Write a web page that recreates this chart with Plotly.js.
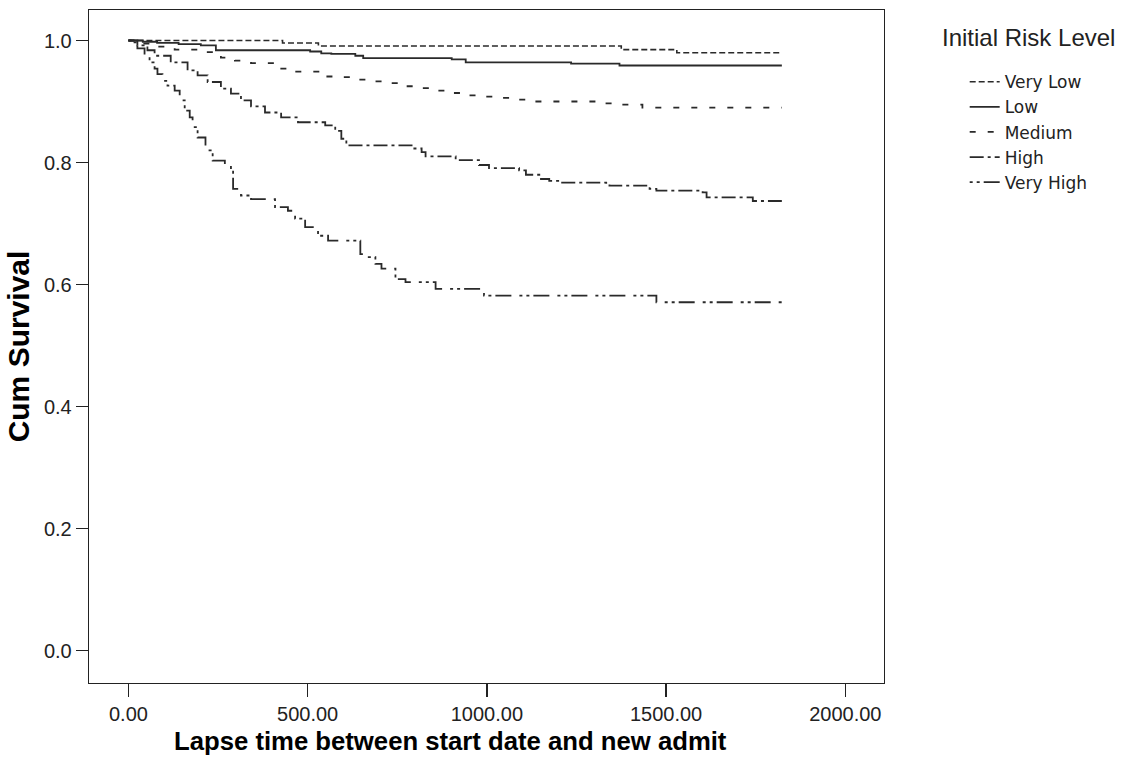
<!DOCTYPE html>
<html>
<head>
<meta charset="utf-8">
<script src="https://cdn.plot.ly/plotly-3.0.1.min.js"></script>
<style>html,body{margin:0;padding:0;background:#fff;}#chart{width:1128px;height:776px;}</style>
</head>
<body>
<div id="chart"></div>
<script>
// Kaplan-Meier survival estimates
const groupNames = ["Very Low", "Low", "Medium", "High", "Very High"];

const veryLowT = [0, 430, 530, 1375, 1530, 1823];
const veryLowS = [1.0, 0.996, 0.991, 0.985, 0.980, 0.980];

const lowT = [0, 40, 80, 140, 202, 244, 507, 538, 566, 633, 655, 902, 941, 1235, 1370, 1823];
const lowS = [1.0, 0.998, 0.996, 0.994, 0.992, 0.984, 0.982, 0.979, 0.978, 0.975, 0.971, 0.969, 0.964, 0.962, 0.959, 0.959];

const mediumT = [0, 25, 67, 129, 213, 258, 297, 342, 417, 465, 549, 594, 641, 678, 725, 762, 818, 857, 894, 941, 992, 1034, 1076, 1118, 1305, 1350, 1434, 1823];
const mediumS = [1.0, 0.995, 0.99, 0.985, 0.981, 0.972, 0.967, 0.963, 0.954, 0.949, 0.941, 0.94, 0.936, 0.933, 0.93, 0.925, 0.922, 0.918, 0.914, 0.91, 0.908, 0.906, 0.903, 0.9, 0.897, 0.895, 0.89, 0.89];

const highT = [0, 25, 53, 73, 118, 165, 193, 221, 258, 286, 314, 342, 381, 426, 473, 549, 577, 594, 608, 790, 818, 829, 913, 978, 1006, 1090, 1109, 1151, 1174, 1210, 1333, 1342, 1454, 1473, 1602, 1613, 1742, 1823];
const highS = [1.0, 0.992, 0.984, 0.975, 0.964, 0.951, 0.943, 0.932, 0.921, 0.913, 0.902, 0.892, 0.882, 0.874, 0.866, 0.861, 0.852, 0.839, 0.828, 0.823, 0.817, 0.81, 0.804, 0.796, 0.791, 0.787, 0.78, 0.773, 0.77, 0.767, 0.765, 0.762, 0.757, 0.754, 0.751, 0.743, 0.737, 0.737];

const veryHighT = [0, 6, 25, 45, 59, 73, 81, 95, 109, 129, 143, 157, 171, 179, 193, 215, 235, 269, 286, 292, 314, 342, 409, 445, 465, 493, 529, 557, 647, 661, 689, 706, 745, 773, 857, 985, 992, 1473, 1823];
const veryHighS = [1.0, 0.997, 0.987, 0.975, 0.964, 0.954, 0.945, 0.934, 0.926, 0.918, 0.902, 0.885, 0.874, 0.858, 0.841, 0.82, 0.803, 0.795, 0.787, 0.757, 0.746, 0.74, 0.727, 0.721, 0.708, 0.694, 0.68, 0.672, 0.65, 0.645, 0.634, 0.626, 0.609, 0.604, 0.593, 0.587, 0.582, 0.571, 0.571];

const xTicks = [0, 500, 1000, 1500, 2000];
const yTicks = [0, 0.2, 0.4, 0.6, 0.8, 1.0];

const xTitle = "Lapse time between start date and new admit";
const yTitle = "Cum Survival";
const legendTitle = "Initial Risk Level";

const FONT = "Liberation Sans, Arial, sans-serif";
const INK = "#222";

const series = [
  {t: veryLowT, s: veryLowS, dash: "6px,3px", width: 1.6},
  {t: lowT, s: lowS, dash: "solid", width: 1.8},
  {t: mediumT, s: mediumS, dash: "6px,12px", width: 1.8},
  {t: highT, s: highS, dash: "14px,4px,3px,4px", width: 1.8},
  {t: veryHighT, s: veryHighS, dash: "3px,4px,3px,4px,16px,8px", width: 1.8}
];

const traces = series.map((d, i) => ({
  type: "scatter",
  mode: "lines",
  name: groupNames[i],
  x: d.t,
  y: d.s,
  line: {shape: "hv", color: "#2a2a2a", width: d.width, dash: d.dash},
  hoverinfo: "x+y+name"
}));

const layout = {
  width: 1128,
  height: 776,
  paper_bgcolor: "#ffffff",
  plot_bgcolor: "#ffffff",
  margin: {l: 89, r: 244, t: 10, b: 93},
  font: {family: FONT, color: INK, size: 20},
  showlegend: true,
  legend: {
    x: 1.1015, xanchor: "left",
    y: 0.9195, yanchor: "top",
    font: {family: "DejaVu Sans, sans-serif", size: 17, color: INK},
    bgcolor: "rgba(0,0,0,0)",
    borderwidth: 0,
    tracegroupgap: 0,
    traceorder: "normal"
  },
  xaxis: {
    range: [-110, 2108],
    tickvals: xTicks,
    tickformat: ".2f",
    ticks: "outside",
    ticklen: 13,
    tickwidth: 1.3,
    tickcolor: INK,
    showline: true,
    linecolor: INK,
    linewidth: 1.3,
    mirror: true,
    showgrid: false,
    zeroline: false,
    tickfont: {family: FONT, size: 20, color: INK}
  },
  yaxis: {
    range: [-0.053, 1.05],
    tickvals: yTicks,
    tickformat: ".1f",
    ticks: "outside",
    ticklen: 12,
    tickwidth: 1.3,
    tickcolor: INK,
    showline: true,
    linecolor: INK,
    linewidth: 1.3,
    mirror: true,
    showgrid: false,
    zeroline: false,
    tickfont: {family: FONT, size: 20, color: INK},
    title: {text: yTitle, font: {family: FONT, size: 30, color: "#000", weight: "bold"}, standoff: 5}
  },
  annotations: [
    {
      text: legendTitle,
      xref: "paper", yref: "paper",
      x: 1.0704, y: 0.9584,
      xanchor: "left", yanchor: "middle",
      showarrow: false,
      font: {family: FONT, size: 24, color: INK}
    },
    {
      text: xTitle,
      xref: "paper", yref: "paper",
      x: 0.4553, y: -0.0862,
      xanchor: "center", yanchor: "middle",
      showarrow: false,
      font: {family: FONT, size: 25.7, color: "#000", weight: "bold"}
    }
  ]
};

Plotly.newPlot("chart", traces, layout, {displayModeBar: false, staticPlot: true});
</script>
</body>
</html>
